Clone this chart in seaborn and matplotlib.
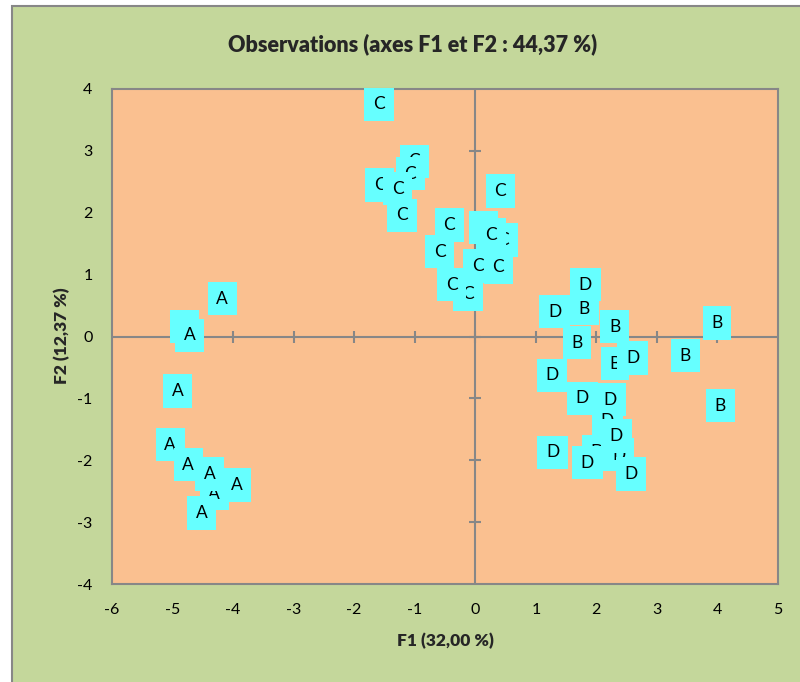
import matplotlib
matplotlib.use("Agg")
import matplotlib.pyplot as plt
import seaborn as sns
import pandas as pd
from matplotlib.patches import Rectangle

# ---- data (F1, F2 coordinates of observations, in drawing order) ----
labels_A = ["A"] * 10
f1_A = [-4.18, -4.80, -4.72, -4.92, -5.04, -4.74, -4.31, -4.39, -3.94, -4.52]
f2_A = [0.61, 0.16, 0.02, -0.88, -1.75, -2.07, -2.54, -2.22, -2.40, -2.85]

labels_B = ["B"] * 7
f1_B = [3.99, 3.47, 4.05, 1.80, 2.30, 1.68, 2.31]
f2_B = [0.22, -0.31, -1.12, 0.45, 0.16, -0.10, -0.44]

labels_C = ["C"] * 16
f1_C = [-1.59, -1.01, -1.07, -1.58, -1.28, -1.21, -0.43, -0.59, -0.12, -0.39,
        0.41, 0.14, 0.46, 0.26, 0.04, 0.38]
f2_C = [3.75, 2.83, 2.63, 2.45, 2.39, 1.96, 1.80, 1.37, 0.68, 0.84,
        2.35, 1.76, 1.56, 1.64, 1.14, 1.12]

labels_D = ["D"] * 13
f1_D = [1.82, 1.31, 2.60, 1.27, 1.77, 2.23, 2.18, 2.01, 2.37, 2.33, 1.28, 1.85, 2.57]
f2_D = [0.84, 0.40, -0.35, -0.63, -1.00, -1.02, -1.37, -1.86, -1.91, -1.61, -1.87, -2.04, -2.22]

x_ticks = [-6, -5, -4, -3, -2, -1, 0, 1, 2, 3, 4, 5]
y_ticks = [-4, -3, -2, -1, 0, 1, 2, 3, 4]

title = "Observations (axes F1 et F2 : 44,37 %)"
xlabel = "F1 (32,00 %)"
ylabel = "F2 (12,37 %)"

# ---- styling ----
GREEN = "#c4d79b"
ORANGE = "#fac090"
CYAN = "#66ffff"
GRAY = "#878787"

sns.set_style("white")
plt.rcParams["font.family"] = ["Lato", "DejaVu Sans"]
plt.rcParams["axes.unicode_minus"] = False

df = pd.DataFrame({
    "F1": f1_A + f1_B + f1_C + f1_D,
    "F2": f2_A + f2_B + f2_C + f2_D,
    "obs": labels_A + labels_B + labels_C + labels_D,
})

fig = plt.figure(figsize=(8.0, 6.82), dpi=100)
fig.patch.set_facecolor("white")
fig.patches.append(Rectangle((12 / 800, -0.05), 1.0, (682 - 6) / 682 + 0.05,
                             transform=fig.transFigure, facecolor=GREEN,
                             edgecolor=GRAY, linewidth=1.5, zorder=-10))

ax = fig.add_axes([112 / 800, 1 - 584 / 682, (778 - 112) / 800, (584 - 89) / 682])
ax.set_facecolor(ORANGE)
for s in ax.spines.values():
    s.set_color(GRAY)
    s.set_linewidth(1.5)
    s.set_visible(True)

# zero axes with cross ticks
ax.axhline(0, color=GRAY, lw=1.5, zorder=1)
ax.axvline(0, color=GRAY, lw=1.5, zorder=1)
ax.plot(x_ticks[1:-1], [0] * len(x_ticks[1:-1]), linestyle="none", marker="|",
        ms=9, mew=1.5, color=GRAY, zorder=1)
ax.plot([0] * len(y_ticks[1:-1]), y_ticks[1:-1], linestyle="none", marker="_",
        ms=9, mew=1.5, color=GRAY, zorder=1)

sns.scatterplot(data=df, x="F1", y="F2", ax=ax, color=CYAN, s=12,
                marker="s", edgecolor="none", legend=False, zorder=2)

for i, row in df.iterrows():
    ax.text(row["F1"], row["F2"], row["obs"], ha="center", va="center",
            fontsize=12.5, color="black", zorder=3 + i * 0.01,
            bbox=dict(boxstyle="square,pad=0.5", facecolor=CYAN, edgecolor="none"))

ax.set_xlim(x_ticks[0], x_ticks[-1])
ax.set_ylim(y_ticks[0], y_ticks[-1])
ax.set_xticks(x_ticks)
ax.set_yticks(y_ticks)
ax.tick_params(axis="both", length=0, pad=14, labelsize=11.5, colors="black")
ax.set_xlabel("")
ax.set_ylabel("")

fig.text(413 / 800, 1 - 44 / 682, title, ha="center", va="center",
         fontsize=15.5, fontweight="heavy")
fig.text(445 / 800, 1 - 641 / 682, xlabel, ha="center", va="center",
         fontsize=12.5, fontweight="heavy")
fig.text(62 / 800, 1 - 336 / 682, ylabel, ha="center", va="center",
         fontsize=12.5, fontweight="heavy", rotation=90)

fig.savefig("out.png", dpi=100, facecolor=fig.get_facecolor())
